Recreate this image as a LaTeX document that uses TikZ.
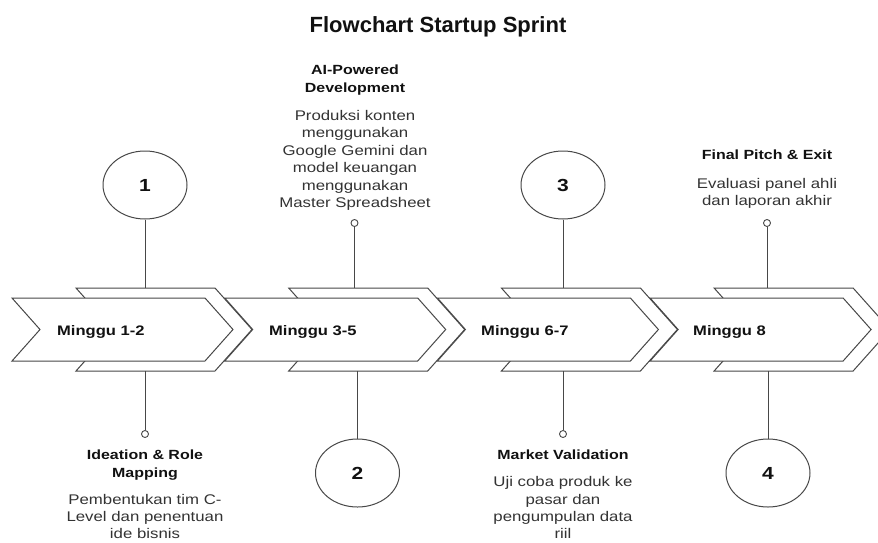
\documentclass[tikz,border=0pt]{standalone}
\usepackage{fontspec}
\setmainfont{Liberation Sans}
\newfontfamily\sq[FakeStretch=1.2]{Liberation Sans}
\usetikzlibrary{shapes.geometric}
\definecolor{ln}{HTML}{484848}
\definecolor{tx}{HTML}{111111}
\definecolor{bd}{HTML}{333333}
\begin{document}
\begin{tikzpicture}[x=1pt,y=-1pt,
  shp/.style={draw=ln, line width=1pt, fill=white, line join=miter},
  conn/.style={draw=ln, line width=1pt},
  num/.style={ellipse, draw=ln, line width=1pt, minimum width=84pt, minimum height=68pt, inner sep=0pt, fill=white, font=\sq\bfseries\fontsize{17.5}{18}\selectfont, text=tx},
  dot/.style={circle, draw=ln, line width=0.9pt, fill=white, minimum size=7pt, inner sep=0pt},
  ttl/.style={align=center, inner sep=0pt, anchor=north, font=\sq\bfseries\fontsize{13.3}{17.5}\selectfont, text=tx},
  body/.style={align=center, inner sep=0pt, anchor=north, font=\sq\fontsize{14}{17.5}\selectfont, text=bd},
  bodylow/.style={body, font=\sq\fontsize{14}{17.2}\selectfont},
  wk/.style={anchor=base west, inner sep=0pt, font=\sq\bfseries\fontsize{13.8}{16}\selectfont, text=tx},
  head/.style={inner sep=0pt, font=\bfseries\fontsize{22}{24}\selectfont, text=tx}
]
\clip (0,0) rectangle (878,542);
\fill[white] (0,0) rectangle (878,542);

% title
\node[head] (title) at (438,27) {Flowchart Startup Sprint};

% chevrons (back + front)
\foreach \i in {0,1,2,3}{
  \pgfmathsetmacro\xa{12+212.7*\i}
  \pgfmathsetmacro\xb{\xa+64}
  \draw[shp] (\xb,288) -- (\xb+139,288) -- (\xb+176,329.5) -- (\xb+139,371) -- (\xb,371) -- (\xb+37,329.5) -- cycle;
  \draw[shp] (\xa,298) -- (\xa+193,298) -- (\xa+221,329.5) -- (\xa+193,361) -- (\xa,361) -- (\xa+28,329.5) -- cycle;
}

% week labels
\node[wk] (w1) at (57,335.5) {Minggu 1-2};
\node[wk] (w2) at (269,335.5) {Minggu 3-5};
\node[wk] (w3) at (481,335.5) {Minggu 6-7};
\node[wk] (w4) at (693,335.5) {Minggu 8};

% connector end points on the chevrons
\coordinate (t1) at (145,288);
\coordinate (t2) at (354.5,288);
\coordinate (t3) at (563,288);
\coordinate (t4) at (767,288);
\coordinate (u1) at (145,371);
\coordinate (u2) at (357.5,371);
\coordinate (u3) at (563,371);
\coordinate (u4) at (768,371);

% numbered ellipses
\node[num] (c1) at (145,185) {1};
\node[num] (c2) at (357.5,473) {2};
\node[num] (c3) at (563,185) {3};
\node[num] (c4) at (768,473) {4};

% small dots
\node[dot] (d1) at (145,434) {};
\node[dot] (d2) at (354.5,223) {};
\node[dot] (d3) at (563,434) {};
\node[dot] (d4) at (767,223) {};

% connectors
\draw[conn] (c1) -- (t1);
\draw[conn] (u1) -- (d1);
\draw[conn] (d2) -- (t2);
\draw[conn] (u2) -- (c2);
\draw[conn] (c3) -- (t3);
\draw[conn] (u3) -- (d3);
\draw[conn] (d4) -- (t4);
\draw[conn] (u4) -- (c4);

% texts
\node[ttl] (h1) at (145,450) {Ideation \& Role\\Mapping};
\node[bodylow] (b1) at (145,494) {Pembentukan tim C-\\Level dan penentuan\\ide bisnis};
\node[ttl] (h2) at (355,65) {AI-Powered\\Development};
\node[body] (b2) at (355,110) {Produksi konten\\menggunakan\\Google Gemini dan\\model keuangan\\menggunakan\\Master Spreadsheet};
\node[ttl] (h3) at (563,450) {Market Validation};
\node[bodylow] (b3) at (563,476.5) {Uji coba produk ke\\pasar dan\\pengumpulan data\\riil};
\node[ttl] (h4) at (767,150) {Final Pitch \& Exit};
\node[body] (b4) at (767,178) {Evaluasi panel ahli\\dan laporan akhir};
\end{tikzpicture}
\end{document}
